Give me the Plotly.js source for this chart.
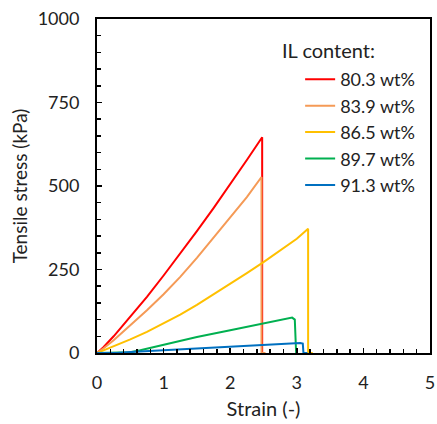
<!DOCTYPE html>
<html>
<head>
<meta charset="utf-8">
<script src="https://cdn.plot.ly/plotly-3.0.1.min.js"></script>
<style>html,body{margin:0;padding:0;background:#fff;}#chart{width:437px;height:424px;}</style>
</head>
<body>
<div id="chart"></div>
<script>
// Series names (IL content)
const seriesNames = ["80.3 wt%", "83.9 wt%", "86.5 wt%", "89.7 wt%", "91.3 wt%"];
const seriesColors = ["#FF0000", "#F59A56", "#FFC000", "#00B050", "#0070C0"];

// Strain (-) and tensile stress (kPa)
const strain803 = [0, 0.1, 0.25, 0.5, 0.75, 1.0, 1.25, 1.5, 1.75, 2.0, 2.25, 2.48, 2.48];
const stress803 = [0, 18, 50, 108, 168, 232, 298, 365, 434, 505, 578, 646, 0];

const strain839 = [0, 0.1, 0.25, 0.5, 0.75, 1.0, 1.25, 1.5, 1.75, 2.0, 2.25, 2.47, 2.47, 2.53];
const stress839 = [0, 14, 38, 82, 128, 176, 228, 285, 345, 405, 467, 527, 0, 0];

const strain865 = [0, 0.1, 0.25, 0.5, 0.75, 1.0, 1.25, 1.5, 1.75, 2.0, 2.25, 2.5, 2.75, 3.0, 3.17, 3.17, 3.24];
const stress865 = [0, 8, 20, 41, 63, 88, 115, 144, 175, 207, 239, 272, 306, 342, 372, 0, 0];

const strain897 = [0, 0.3, 0.5, 0.65, 1.0, 1.5, 2.0, 2.5, 2.8, 2.93, 2.97, 2.99];
const stress897 = [0, 0, 2, 8, 25, 48, 68, 88, 101, 106, 100, 0];

const strain913 = [0, 0.3, 0.5, 1.0, 1.5, 2.0, 2.5, 3.05, 3.09, 3.1, 3.16];
const stress913 = [0, 0, 3, 8, 13, 18, 23, 30, 28, 0, 0];

// Axis tick labels
const xTicks = [0, 1, 2, 3, 4, 5];
const yTicks = [0, 250, 500, 750, 1000];

const xs = [strain803, strain839, strain865, strain897, strain913];
const ys = [stress803, stress839, stress865, stress897, stress913];

const FONT = "Lato, 'Open Sans', sans-serif";

const traces = seriesNames.map((name, i) => ({
  x: xs[i], y: ys[i], name: name, type: "scatter", mode: "lines",
  legendgroup: "g" + i,
  line: {color: seriesColors[i], width: 2}
}));

const axisCommon = {
  showgrid: false, zeroline: false,
  showline: true, linecolor: "#000", linewidth: 2, mirror: true,
  ticks: "inside", ticklen: 5, tickwidth: 1.5, tickcolor: "#000",
  tickfont: {family: FONT, size: 18, color: "#222"},
  ticklabelstandoff: 12
};

const layout = {
  width: 437, height: 424,
  margin: {l: 97, r: 7, t: 19, b: 71},
  paper_bgcolor: "#fff", plot_bgcolor: "#fff",
  font: {family: FONT, color: "#222"},
  xaxis: Object.assign({}, axisCommon, {
    range: [0, 5], tickvals: xTicks, ticktext: xTicks.map(String),
    minor: {dtick: 0.2, ticks: "inside", ticklen: 4, tickwidth: 1.5, tickcolor: "#000"},
    title: {text: "Strain (-)", font: {family: FONT, size: 20, color: "#222"}, standoff: 10}
  }),
  yaxis: Object.assign({}, axisCommon, {
    range: [0, 1000], tickvals: yTicks, ticktext: yTicks.map(String),
    minor: {dtick: 50, ticks: "inside", ticklen: 4, tickwidth: 1.5, tickcolor: "#000"},
    title: {text: "Tensile stress (kPa)", font: {family: FONT, size: 19, color: "#222"}, standoff: 5}
  }),
  showlegend: true,
  legend: {
    x: 0.61, y: 0.874, xanchor: "left", yanchor: "top",
    bgcolor: "rgba(0,0,0,0)", borderwidth: 0,
    font: {family: FONT, size: 18, color: "#222"},
    itemwidth: 30, tracegroupgap: 5.3, traceorder: "normal"
  },
  annotations: [{
    text: "IL content:", xref: "paper", yref: "paper", x: 0.55, y: 0.907,
    xanchor: "left", yanchor: "middle", showarrow: false,
    font: {family: FONT, size: 20, color: "#222"}
  }]
};

Plotly.newPlot("chart", traces, layout, {displayModeBar: false, staticPlot: true});
</script>
</body>
</html>
